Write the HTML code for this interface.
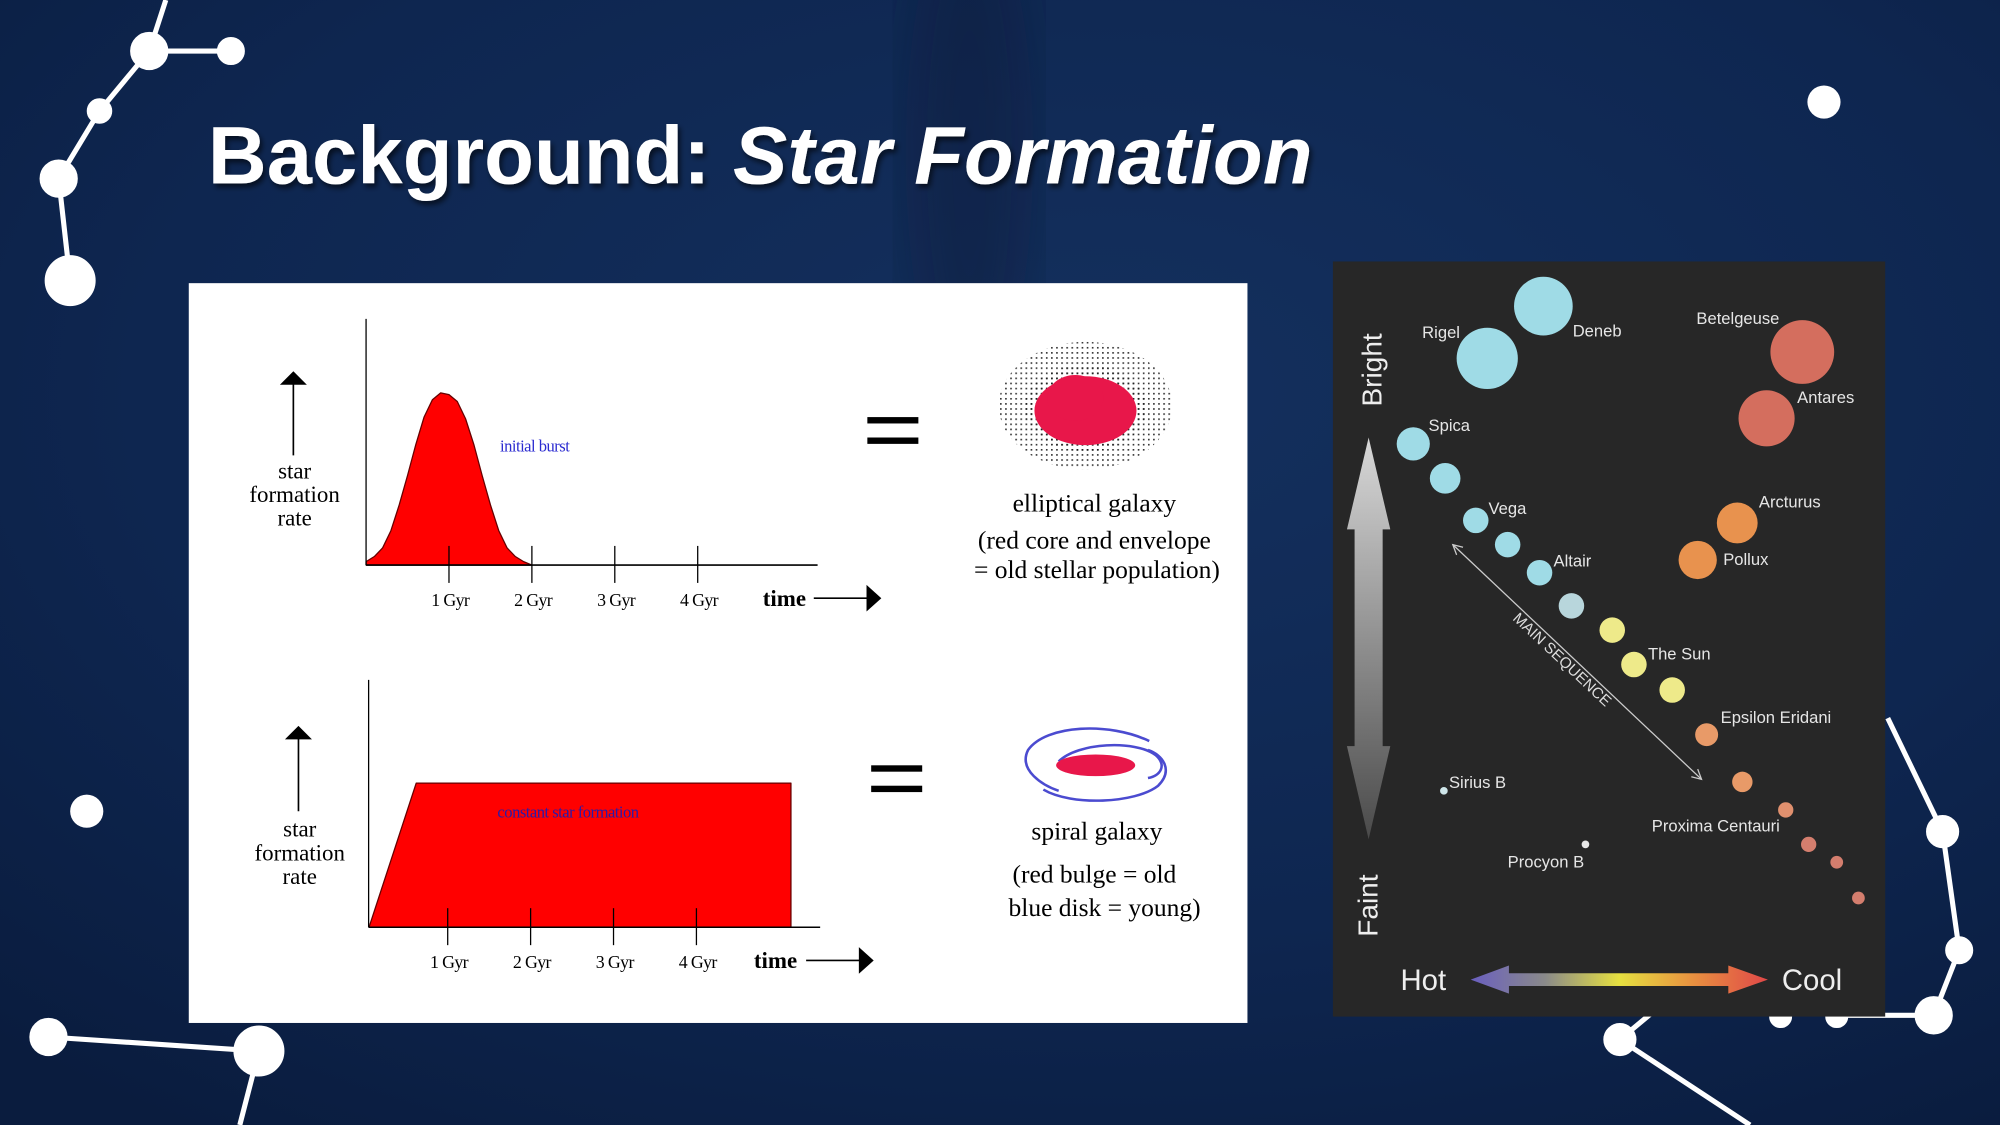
<!DOCTYPE html>
<html><head><meta charset="utf-8">
<style>
html,body{margin:0;padding:0;width:2000px;height:1125px;overflow:hidden;background:#0c2148;}
svg{display:block;}
text{font-family:"Liberation Sans",sans-serif;}
text.serif{font-family:"Liberation Serif",serif;}
</style></head>
<body>
<svg id="root" width="2000" height="1125" viewBox="0 0 1568 882" xmlns="http://www.w3.org/2000/svg">
<defs>
  <radialGradient id="bgG" cx="0.55" cy="0.35" r="0.8">
    <stop offset="0" stop-color="#14305e"/>
    <stop offset="0.6" stop-color="#0e2650"/>
    <stop offset="1" stop-color="#0a1c3e"/>
  </radialGradient>
  <linearGradient id="vArrow" x1="0" y1="0" x2="0" y2="1">
    <stop offset="0" stop-color="#d8d8d8"/><stop offset="1" stop-color="#4a4a4a"/>
  </linearGradient>
  <linearGradient id="hArrow" x1="0" y1="0" x2="1" y2="0">
    <stop offset="0" stop-color="#6a5fc0"/><stop offset="0.25" stop-color="#8a8a8a"/>
    <stop offset="0.5" stop-color="#e6e040"/><stop offset="0.75" stop-color="#e89040"/>
    <stop offset="1" stop-color="#e04848"/>
  </linearGradient>
  <pattern id="dots" width="4" height="4" patternUnits="userSpaceOnUse">
    <rect x="0" y="0" width="1.3" height="1.3" fill="#222"/>
  </pattern>
  <filter id="sh"><feDropShadow dx="2" dy="3" stdDeviation="2" flood-color="#000" flood-opacity="0.6"/></filter>
  <filter id="blur"><feGaussianBlur stdDeviation="25"/></filter>
</defs>
<rect width="1568" height="882" fill="url(#bgG)"/>
<ellipse cx="760" cy="120" rx="50" ry="200" fill="#081630" opacity="0.35" filter="url(#blur)"/>

<g stroke="#fff" stroke-width="4" fill="#fff">
  <polyline points="130,0 117,40 78,87 46,140 55,220" fill="none"/>
  <line x1="117" y1="40" x2="181" y2="40"/>
  <circle cx="117" cy="40" r="13"/><circle cx="181" cy="40" r="9"/><circle cx="78" cy="87" r="8"/>
  <circle cx="46" cy="140" r="13"/><circle cx="55" cy="220" r="18"/>
</g>
<circle cx="68" cy="636" r="13" fill="#fff"/>
<circle cx="1430" cy="80" r="13" fill="#fff"/>
<g stroke="#fff" stroke-width="4" fill="#fff">
  <polyline points="38,813 203,824 188,882" fill="none"/>
  <circle cx="38" cy="813" r="13"/><circle cx="203" cy="824" r="18"/>
</g>
<g stroke="#fff" stroke-width="4" fill="#fff">
  <polyline points="1480,563 1523,652 1536,745 1516,796 1440,796" fill="none"/>
  <polyline points="1300,790 1270,815 1372,882" fill="none"/>
  <circle cx="1523" cy="652" r="11"/><circle cx="1536" cy="745" r="9"/><circle cx="1516" cy="796" r="13"/>
  <circle cx="1270" cy="815" r="11"/><circle cx="1440" cy="797" r="7"/><circle cx="1396" cy="797" r="7"/>
</g>

<text x="163" y="144" font-size="64" font-weight="bold" fill="#fff" textLength="866" lengthAdjust="spacingAndGlyphs" filter="url(#sh)">Background: <tspan font-style="italic">Star Formation</tspan></text>

<rect x="148" y="222" width="830" height="580" fill="#fff"/>
<g id="charts"></g>

<g fill="#000">
  <rect x="680" y="327" width="40" height="5"/><rect x="680" y="343" width="40" height="5"/>
</g>
<g fill="#000">
  <rect x="683" y="600" width="40" height="5"/><rect x="683" y="616" width="40" height="5"/>
</g>

<g>
  <ellipse cx="851" cy="318" rx="68" ry="50" fill="url(#dots)" opacity="0.9"/>
  <ellipse cx="851" cy="320" rx="48" ry="34" fill="url(#dots)"/>
  <ellipse cx="851" cy="322" rx="40" ry="27" fill="#e8174a"/>
  <ellipse cx="843" cy="312" rx="22" ry="18" fill="#e8174a"/>
</g>
<g fill="#000" text-anchor="middle">
  <text x="858" y="401" font-size="20" class="serif">elliptical galaxy</text>
  <text x="858" y="430" font-size="20" class="serif">(red core and envelope</text>
  <text x="860" y="453" font-size="20" class="serif">= old stellar population)</text>
</g>

<g>
  <path d="M901,581 C870,566 820,568 806,588 C798,604 818,616 830,620" fill="none" stroke="#4b4bd0" stroke-width="2"/>
  <path d="M818,619 C840,632 890,630 908,616 C920,604 912,592 900,588" fill="none" stroke="#4b4bd0" stroke-width="2"/>
  <path d="M830,597 C845,582 890,580 906,592 C915,600 910,608 900,610" fill="none" stroke="#4b4bd0" stroke-width="2"/>
  <ellipse cx="859" cy="600" rx="31" ry="8.5" fill="#e8174a"/>
</g>
<g text-anchor="middle" fill="#000">
  <text x="860" y="658" font-size="20" class="serif">spiral galaxy</text>
  <text x="858" y="692" font-size="20" class="serif">(red bulge = old</text>
  <text x="866" y="718" font-size="20" class="serif">blue disk = young)</text>
</g>

<rect x="1045" y="205" width="433" height="592" fill="#272727"/>
<g fill="url(#vArrow)">
  <polygon points="1073,343 1090,415 1084,415 1084,585 1090,585 1073,658 1056,585 1062,585 1062,415 1056,415"/>
</g>
<text transform="translate(1083,290) rotate(-90)" text-anchor="middle" font-size="22" fill="#eee">Bright</text>
<text transform="translate(1080,710) rotate(-90)" text-anchor="middle" font-size="22" fill="#eee">Faint</text>
<polygon points="1153,768 1183,757 1183,763 1355,763 1355,757 1386,768 1355,779 1355,773 1183,773 1183,779" fill="url(#hArrow)"/>
<text x="1098" y="776" font-size="23" fill="#eee">Hot</text>
<text x="1397" y="776" font-size="23" fill="#eee">Cool</text>
<g stroke="#ccc" stroke-width="1" fill="none">
  <line x1="1139" y1="427" x2="1334" y2="611"/>
  <polyline points="1147,429 1139,427 1142,435"/>
  <polyline points="1326,609 1334,611 1331,603"/>
</g>
<text transform="translate(1222,520) rotate(43.3)" text-anchor="middle" font-size="12" fill="#ddd">MAIN SEQUENCE</text>
<g id="stars"></g>
</svg>
<script>
var burstTimes = [0, 0.1, 0.2, 0.3, 0.4, 0.5, 0.6, 0.7, 0.8, 0.9, 1.0, 1.1, 1.2, 1.3, 1.4, 1.5, 1.6, 1.7, 1.8, 1.9, 2.0];
var burstRates = [0.02, 0.05, 0.1, 0.2, 0.35, 0.52, 0.7, 0.86, 0.96, 1.0, 0.99, 0.95, 0.85, 0.7, 0.52, 0.35, 0.2, 0.1, 0.05, 0.02, 0.0];
var constTimes = [0.05, 0.62, 5.14, 5.14];
var constRates = [0, 1, 1, 0];
var tickValues = [1, 2, 3, 4];
var tickLabels = ["1 Gyr", "2 Gyr", "3 Gyr", "4 Gyr"];

var starX = [1166,1210,1413,1385,1108,1133,1157,1182,1207,1232,1264,1281,1311,1338,1366,1400,1418,1440,1457,1362,1331,1132,1243];
var starY = [281,240,276,328,348,375,408,427,449,475,494,521,541,576,613,635,662,676,704,410,439,620,662];
var starR = [24,23,25,22,13,12,10,10,10,10,10,10,10,9,8,6,6,5,5,16,15,3,3];
var starColor = ['#9fdbe6','#9fdbe6','#d46e5e','#d46e5e','#9fdbe6','#9fdbe6','#9fdbe6','#9fdbe6','#9fdbe6','#b8d6dc','#eeea8a','#eeea8a','#eeea8a','#e89a68','#e89a68','#e0906e','#d47e6e','#d47e6e','#d47e6e','#e8924e','#e8924e','#cfe6ea','#e8e8e8'];
var labelText = ['Rigel','Deneb','Betelgeuse','Antares','Spica','Vega','Altair','Arcturus','Pollux','The Sun','Epsilon Eridani','Sirius B','Proxima Centauri','Procyon B'];
var labelX = [1115,1233,1330,1409,1120,1167,1218,1379,1351,1292,1349,1136,1295,1182];
var labelY = [265,264,254,316,338,403,444,398,443,517,567,618,652,680];

var NS = "http://www.w3.org/2000/svg";
var SERIF = 'font-family:"Liberation Serif",serif';
function mk(tag, attrs, parent){ var e=document.createElementNS(NS,tag); for(var k in attrs) e.setAttribute(k,attrs[k]); parent.appendChild(e); return e; }

var charts = document.getElementById('charts');
var panels = [
  {x0:287, ox:287, y0:443, top:250, xEnd:641, pxPerGyr:65, hUnit:135, times:burstTimes, rates:burstRates, name:'burst',
   lab:{x:230,y:375}, arr:{x:230,y1:357,y2:292}, tickY:475, time:{x:615,y:475,a1:638,a2:690},
   note:{x:392,y:354,t:'initial burst',c:'#2b2bd0'}},
  {x0:289, ox:286, y0:727, top:533, xEnd:643, pxPerGyr:65, hUnit:113, times:constTimes, rates:constRates, name:'constant',
   lab:{x:234,y:656}, arr:{x:234,y1:636,y2:570}, tickY:759, time:{x:608,y:759,a1:632,a2:684},
   note:{x:390,y:641,t:'constant star formation',c:'#2a1aa8'}}
];
panels.forEach(function(p){
  var g = mk('g', {}, charts);
  
  
  function xs(t){ return p.ox + t*p.pxPerGyr; }
  function ys(v){ return p.y0 - v*p.hUnit; }
  var d = 'M' + xs(p.times[0]).toFixed(1) + ',' + p.y0;
  for (var i=0;i<p.times.length;i++){ d += ' L' + xs(p.times[i]).toFixed(1) + ',' + ys(p.rates[i]).toFixed(1); }
  d += ' L' + xs(p.times[p.times.length-1]).toFixed(1) + ',' + p.y0 + ' Z';
  var area = mk('path', {d:d, fill:'#f00', stroke:'#600', 'stroke-width':1, 'stroke-linejoin':'round'}, g);
  
  
  var ya = mk('line', {x1:p.x0, y1:p.top, x2:p.x0, y2:p.y0, stroke:'#000', 'stroke-width':1}, g);
  
  
  var xa = mk('line', {x1:p.x0, y1:p.y0, x2:p.xEnd, y2:p.y0, stroke:'#000', 'stroke-width':1.2}, g);
  
  
  tickValues.forEach(function(tv, i){
    var tk = mk('line', {x1:xs(tv), y1:p.y0-15, x2:xs(tv), y2:p.y0+14, stroke:'#000', 'stroke-width':1}, g);
    
    
    var tl = mk('text', {x:xs(tv)+1, y:p.tickY, 'text-anchor':'middle', 'font-size':14, style:SERIF+';letter-spacing:-0.5px', fill:'#000'}, g);
    tl.textContent = tickLabels[i];
    
    
  });
  var tm = mk('text', {x:p.time.x, y:p.time.y, 'text-anchor':'middle', 'font-size':18, style:SERIF, 'font-weight':'bold', fill:'#000'}, g);
  tm.textContent = 'time';
  
  
  var ta = mk('path', {d:'M'+p.time.a1+','+(p.time.y-6)+' H'+(p.time.a2-10)+' M'+(p.time.a2-10)+','+(p.time.y-15)+' L'+p.time.a2+','+(p.time.y-6)+' L'+(p.time.a2-10)+','+(p.time.y+3)+' Z', stroke:'#000', 'stroke-width':1.3, fill:'#000'}, g);
  
  
  var yarr = mk('path', {d:'M'+p.arr.x+','+p.arr.y1+' V'+(p.arr.y2+8)+' M'+(p.arr.x-9)+','+(p.arr.y2+9)+' L'+p.arr.x+','+p.arr.y2+' L'+(p.arr.x+9)+','+(p.arr.y2+9)+' Z', stroke:'#000', 'stroke-width':1.3, fill:'#000'}, g);
  
  
  ['star','formation','rate'].forEach(function(w, i){
    var yl = mk('text', {x:p.lab.x+1, y:p.lab.y + i*18.5, 'text-anchor':'middle', 'font-size':18, style:SERIF, fill:'#000'}, g);
    yl.textContent = w;
    
    
  });
  var nt = mk('text', {x:p.note.x, y:p.note.y, 'font-size':13, style:SERIF+';letter-spacing:-0.4px', fill:p.note.c}, g);
  nt.textContent = p.note.t;
  
  
});

var stars = document.getElementById('stars');
for (var i=0;i<starX.length;i++){
  var c = mk('circle', {cx:starX[i], cy:starY[i], r:starR[i], fill:starColor[i]}, stars);
  
  
}
for (var j=0;j<labelText.length;j++){
  var t = mk('text', {x:labelX[j], y:labelY[j], 'font-size':13, fill:'#e6e6e6'}, stars);
  t.textContent = labelText[j];
  
  
}
</script>
</body></html>
